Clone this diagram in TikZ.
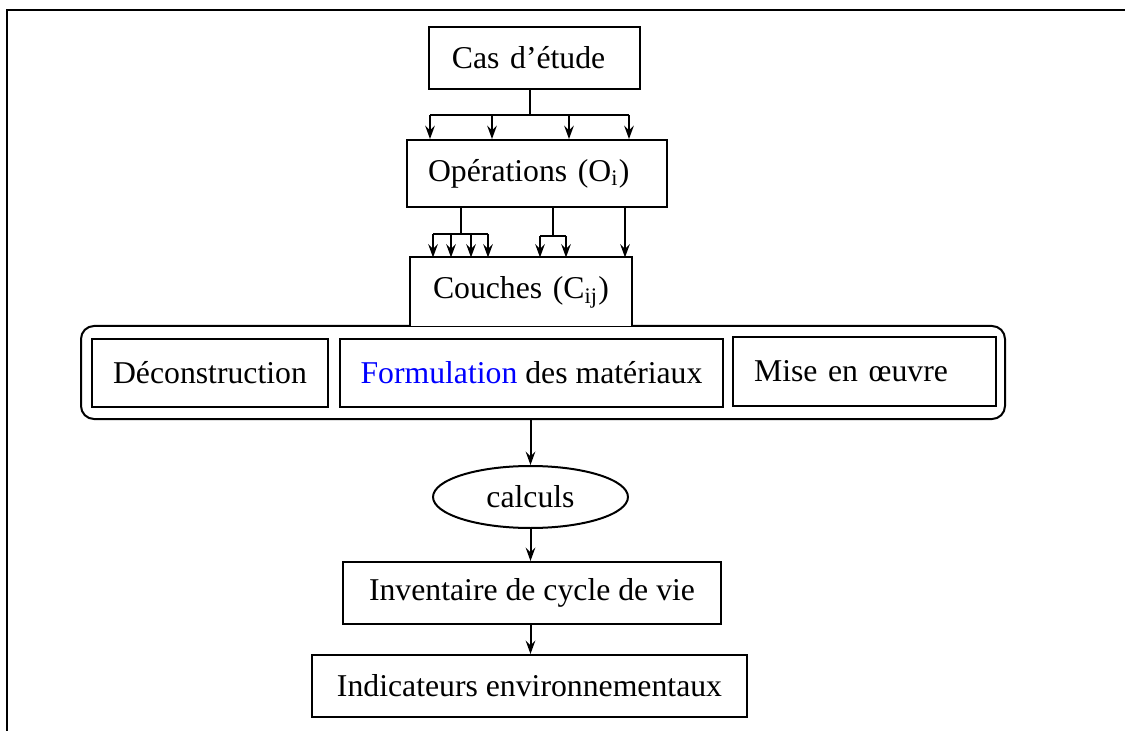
\documentclass[tikz,border=0pt]{standalone}
\usepackage{fontspec}
\setmainfont{Liberation Serif}
\usepackage{xcolor}
\usepackage{tikz}
\usetikzlibrary{shapes.geometric, arrows.meta, positioning, calc}

\begin{document}
\begin{tikzpicture}[x=0.375pt, y=-0.375pt,
    every node/.style={font=\fontsize{11.9}{14}\selectfont},
    etape/.style={draw, rectangle, line width=0.75pt, inner sep=0pt},
    trait/.style={line width=0.75pt},
    fleche/.style={line width=0.75pt, -{Stealth[length=5pt, width=3.6pt, inset=1.8pt]}}]
    \useasboundingbox (0,0) rectangle (1125,731);

    % Frame
    \draw[line width=1.1pt] (7,731) -- (7,10) -- (1125,10);

    % Case and operations
    \node[etape, minimum height=23.25pt, inner xsep=8.6pt, text width=61.9pt, align=left] (cas) at (534.5,58) {Cas d’étude};
    \node[etape, minimum height=25.1pt, inner xsep=7.9pt, text width=81.7pt, align=left] (ops) at (537,173.5) {Opérations (O\textsubscript{i})};

    % Layer group (rounded box with tab)
    \node[draw, line width=0.75pt, rounded corners=4.9pt, minimum width=346.5pt, minimum height=34.9pt] (grp) at (543,372.5) {};
    \node[inner sep=0pt, minimum height=25.5pt, inner xsep=8.6pt, text width=66pt, align=left, fill=white] (couches) at (521,292) {Couches (C\textsubscript{ij})};
    \fill[white] (couches.south west) rectangle ([yshift=-1.2pt]couches.south east);
    \draw[trait] (couches.south west) |- (couches.north) -| (couches.south east);

    \node[etape, minimum width=88.5pt, minimum height=25.5pt] (deco) at (210,373) {Déconstruction};
    \node[etape, minimum width=143.6pt, minimum height=25.5pt] (formu) at (531.5,373) {\textcolor{blue}{Formulation} des matériaux};
    \node[etape, minimum height=25.9pt, inner xsep=7.9pt, text width=82.8pt, align=left] (mise) at (864.5,371.5) {Mise en œuvre};

    % Results
    \node[draw, ellipse, line width=0.75pt, minimum width=73.1pt, minimum height=23.25pt, inner sep=0pt] (calculs) at (530.5,497) {calculs};
    \node[etape, minimum width=141.75pt, minimum height=23.25pt] (inv) at (532,593) {Inventaire de cycle de vie};
    \node[etape, minimum width=163.1pt, minimum height=23.25pt] (ind) at (529.5,686) {Indicateurs environnementaux};

    % Cas -> Operations
    \coordinate (busA) at (530,115);
    \draw[trait] (cas.south -| busA) -- (busA);
    \draw[trait] (430,115) -- (629,115);
    \foreach \x in {430,492,569,629}
        \draw[fleche] (\x,115) -- (\x,115 |- ops.north);

    % Operations -> Couches
    \draw[trait] (461,0 |- ops.south) -- (461,234);
    \draw[trait] (433,234) -- (488,234);
    \foreach \x in {433,451,471,488}
        \draw[fleche] (\x,234) -- (\x,234 |- couches.north);
    \draw[trait] (553,0 |- ops.south) -- (553,236);
    \draw[trait] (540,236) -- (566,236);
    \foreach \x in {540,566}
        \draw[fleche] (\x,236) -- (\x,236 |- couches.north);
    \draw[fleche] (625,0 |- ops.south) -- (625,0 |- couches.north);

    % Chain
    \draw[fleche] (grp.south -| calculs.north) -- (calculs.north);
    \draw[fleche] (calculs.south) -- (calculs.south |- inv.north);
    \draw[fleche] (inv.south -| calculs.south) -- (ind.north -| calculs.south);
\end{tikzpicture}
\end{document}
